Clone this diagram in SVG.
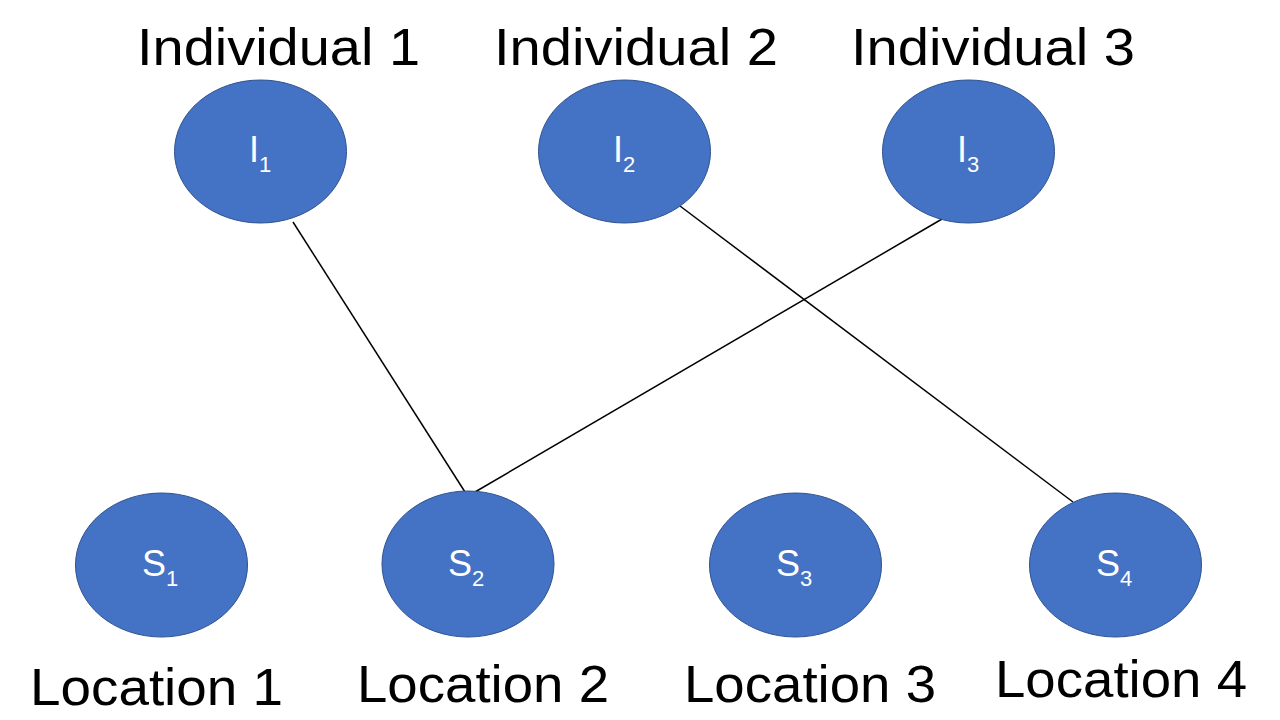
<svg xmlns="http://www.w3.org/2000/svg" width="1280" height="720" viewBox="0 0 1280 720">
<style>
.node{fill:#4472C4;stroke:#2F528F;stroke-width:1}
.nt{font-family:"Liberation Sans","Open Sans",sans-serif;font-size:36px;fill:#ffffff}
.sub{font-size:22px}
.lbl{font-family:"Liberation Sans","Open Sans",sans-serif;font-size:52px;fill:#000000}
.edge{stroke:#000000;stroke-width:1.5;fill:none}
</style>
<rect width="1280" height="720" fill="#ffffff"/>
<g id="connectors">
<line class="edge" x1="293" y1="222" x2="465" y2="492"/>
<line class="edge" x1="680" y1="206" x2="1073" y2="502"/>
<line class="edge" x1="942" y1="219" x2="475" y2="492"/>
</g>
<g id="I1">
<ellipse class="node" cx="260.5" cy="151.5" rx="86" ry="71.5"/>
<text class="nt" x="249" y="162">I<tspan class="sub" dy="10">1</tspan></text>
<text class="lbl" x="137" y="65" textLength="283" lengthAdjust="spacingAndGlyphs">Individual 1</text>
</g>
<g id="I2">
<ellipse class="node" cx="624.5" cy="151.5" rx="86" ry="71.5"/>
<text class="nt" x="613" y="162">I<tspan class="sub" dy="10">2</tspan></text>
<text class="lbl" x="494" y="65" textLength="284" lengthAdjust="spacingAndGlyphs">Individual 2</text>
</g>
<g id="I3">
<ellipse class="node" cx="968.5" cy="151.5" rx="86" ry="71.5"/>
<text class="nt" x="957" y="162">I<tspan class="sub" dy="10">3</tspan></text>
<text class="lbl" x="851" y="65" textLength="284" lengthAdjust="spacingAndGlyphs">Individual 3</text>
</g>
<g id="S1">
<ellipse class="node" cx="161.5" cy="565" rx="86" ry="72"/>
<text class="nt" x="142" y="576">S<tspan class="sub" dy="10">1</tspan></text>
<text class="lbl" x="30" y="705" textLength="253" lengthAdjust="spacingAndGlyphs">Location 1</text>
</g>
<g id="S2">
<ellipse class="node" cx="468" cy="564" rx="86" ry="73"/>
<text class="nt" x="448" y="576">S<tspan class="sub" dy="10">2</tspan></text>
<text class="lbl" x="357" y="702" textLength="252" lengthAdjust="spacingAndGlyphs">Location 2</text>
</g>
<g id="S3">
<ellipse class="node" cx="795.5" cy="565" rx="86" ry="72"/>
<text class="nt" x="776" y="576">S<tspan class="sub" dy="10">3</tspan></text>
<text class="lbl" x="684" y="702" textLength="252" lengthAdjust="spacingAndGlyphs">Location 3</text>
</g>
<g id="S4">
<ellipse class="node" cx="1115.5" cy="565" rx="86" ry="72"/>
<text class="nt" x="1096" y="576">S<tspan class="sub" dy="10">4</tspan></text>
<text class="lbl" x="995" y="697" textLength="252" lengthAdjust="spacingAndGlyphs">Location 4</text>
</g>
</svg>
